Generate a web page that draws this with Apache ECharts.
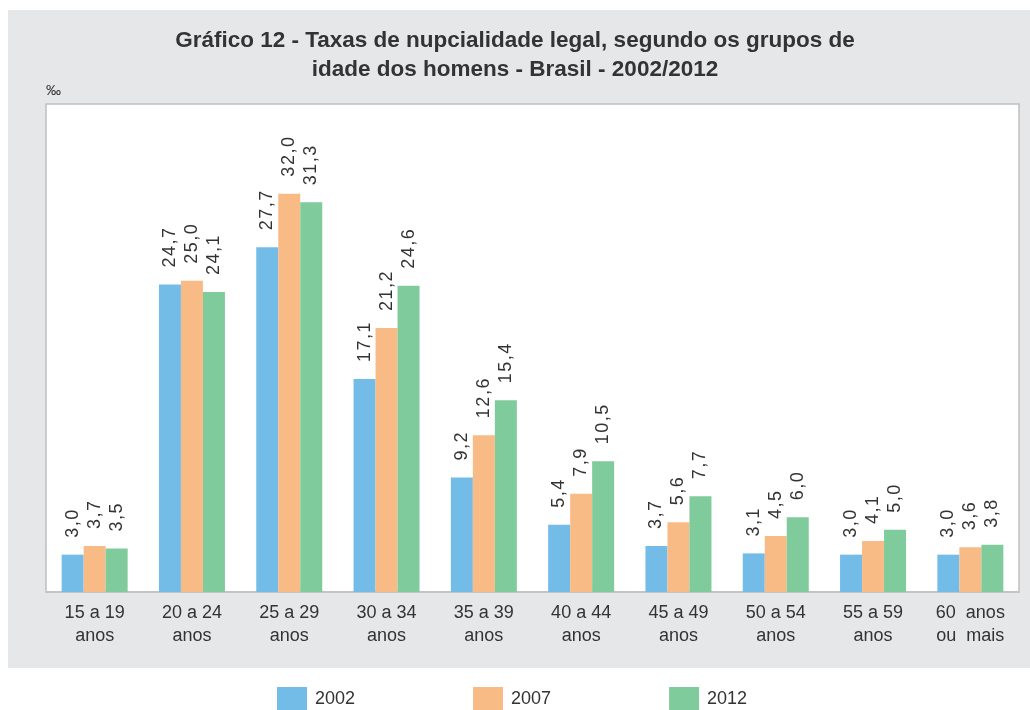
<!DOCTYPE html>
<html>
<head>
<meta charset="utf-8">
<title>Gráfico 12</title>
<script src="https://cdn.jsdelivr.net/npm/echarts@6/dist/echarts.min.js"></script>
<style>
html,body{margin:0;padding:0;background:#fff;}
#container{width:1030px;height:710px;}
</style>
</head>
<body>
<div id="container"></div>
<script>
    var categories = ['15 a 19\nanos', '20 a 24\nanos', '25 a 29\nanos', '30 a 34\nanos', '35 a 39\nanos',
                      '40 a 44\nanos', '45 a 49\nanos', '50 a 54\nanos', '55 a 59\nanos', '60  anos\nou  mais'];
    var data2002 = [3.0, 24.7, 27.7, 17.1, 9.2, 5.4, 3.7, 3.1, 3.0, 3.0];
    var data2007 = [3.7, 25.0, 32.0, 21.2, 12.6, 7.9, 5.6, 4.5, 4.1, 3.6];
    var data2012 = [3.5, 24.1, 31.3, 24.6, 15.4, 10.5, 7.7, 6.0, 5.0, 3.8];
    var years = ['2002', '2007', '2012'];
    var colors = ['#74bce8', '#f9bb85', '#80cb9b'];

    var font = '"Liberation Sans", Arial, sans-serif';

    function fmt(p) {   // 3.0 -> "3,0", slightly spaced like the original
        return p.value.toFixed(1).replace('.', ',').split('').join('\u200a');
    }

    function serie(name, data, color) {
        return {
            name: name,
            type: 'bar',
            data: data,
            barWidth: 22,
            barGap: 0,
            itemStyle: { color: color },
            label: {
                show: true,
                position: 'top',
                rotate: 90,
                align: 'left',
                verticalAlign: 'middle',
                distance: 17,
                fontFamily: font,
                fontSize: 18,
                color: '#333',
                formatter: fmt
            }
        };
    }

    var option = {
        backgroundColor: '#fff',
        animation: false,
        graphic: [
            { type: 'rect', z: -10, shape: { x: 8, y: 10, width: 1022, height: 658 }, style: { fill: '#e6e7e9' } },
            { type: 'text', left: 46, top: 83, style: { text: '‰', font: '15px ' + font, fill: '#333' } }
        ],
        title: {
            text: 'Gráfico 12 - Taxas de nupcialidade legal, segundo os grupos de\nidade dos homens - Brasil - 2002/2012',
            left: 'center',
            top: 21,
            textStyle: {
                fontFamily: font,
                fontSize: 22.5,
                fontWeight: 'bold',
                color: '#333',
                lineHeight: 29
            }
        },
        legend: {
            data: years,
            left: 272,
            top: 682,
            itemWidth: 30,
            itemHeight: 24,
            itemGap: 118,
            icon: 'rect',
            textStyle: { fontFamily: font, fontSize: 18, color: '#333', padding: [2, 0, 0, 3] }
        },
        grid: {
            left: 46,
            right: 11,
            top: 104,
            bottom: 118,
            show: true,
            backgroundColor: '#fff',
            borderColor: '#c0c0c0',
            borderWidth: 1.5
        },
        xAxis: {
            type: 'category',
            data: categories,
            axisLine: { lineStyle: { color: '#c4c4c4', width: 2 } },
            axisTick: { show: false },
            axisLabel: {
                fontFamily: font,
                fontSize: 18,
                color: '#333',
                lineHeight: 23,
                margin: 10,
                interval: 0
            }
        },
        yAxis: {
            type: 'value',
            min: 0,
            max: 39.2,
            show: false,
            splitLine: { show: false }
        },
        series: [
            serie(years[0], data2002, colors[0]),
            serie(years[1], data2007, colors[1]),
            serie(years[2], data2012, colors[2])
        ]
    };
    var myChart = echarts.init(document.getElementById('container'));
    myChart.setOption(option, true);
</script>
</body>
</html>
